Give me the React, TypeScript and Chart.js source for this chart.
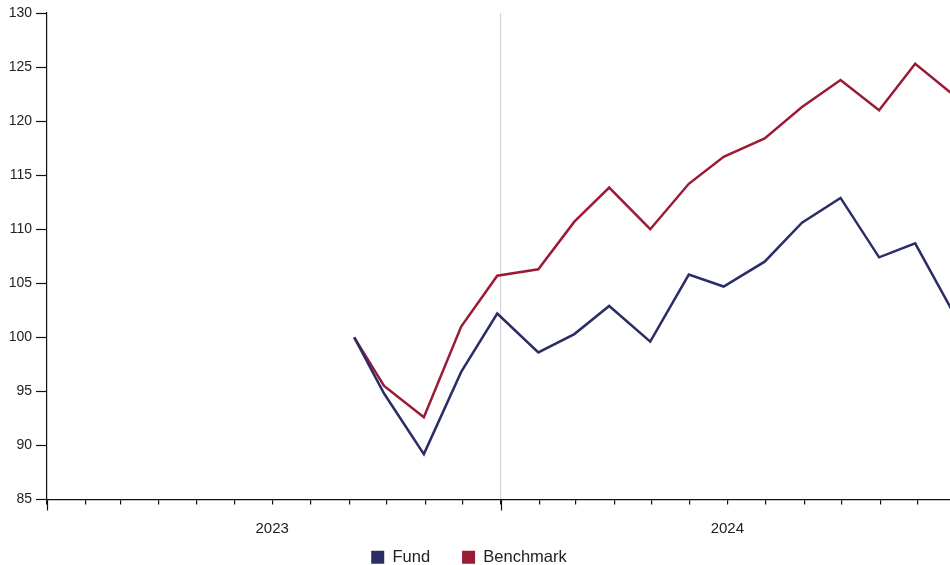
import React, { useEffect, useRef } from "react";
import { Chart, registerables } from "chart.js";

Chart.register(...registerables);

// Dates of observations (day offsets from 2023-01-01 are computed from these)
const dates = [
  "2023-09-05", "2023-09-29", "2023-10-31", "2023-11-30", "2023-12-29",
  "2024-01-31", "2024-02-29", "2024-03-28", "2024-04-30", "2024-05-31",
  "2024-06-28", "2024-07-31", "2024-08-30", "2024-09-30", "2024-10-31",
  "2024-11-29", "2024-12-31",
];
const fundValues = [
  100.0, 94.8, 89.2, 96.8, 102.2, 98.6, 100.3, 102.9, 99.6, 105.8,
  104.7, 107.0, 110.6, 112.9, 107.4, 108.7, 102.0,
];
const benchmarkValues = [
  100.0, 95.5, 92.6, 101.0, 105.7, 106.3, 110.7, 113.85, 110.0, 114.2,
  116.7, 118.4, 121.3, 123.8, 121.0, 125.3, 122.3,
];
const monthTicks = [
  "2023-01-01", "2023-02-01", "2023-03-01", "2023-04-01", "2023-05-01", "2023-06-01",
  "2023-07-01", "2023-08-01", "2023-09-01", "2023-10-01", "2023-11-01", "2023-12-01",
  "2024-01-01", "2024-02-01", "2024-03-01", "2024-04-01", "2024-05-01", "2024-06-01",
  "2024-07-01", "2024-08-01", "2024-09-01", "2024-10-01", "2024-11-01", "2024-12-01",
];
const yearLabelDates = ["2023-07-01", "2024-07-01"];
const yearLabels = ["2023", "2024"];
const yearStartDates = ["2023-01-01", "2024-01-01"];
const dividerDate = "2024-01-01";
const axisEndDate = "2024-12-27";

const ORIGIN = Date.UTC(2023, 0, 1);
const dayOf = (s: string) => {
  const [y, m, d] = s.split("-").map(Number);
  return Math.round((Date.UTC(y, m - 1, d) - ORIGIN) / 86400000);
};

const FUND = "#2b2d66";
const BENCH = "#9b1b36";
const FONT = "'Liberation Sans', Arial, sans-serif";

export default function App() {
  const ref = useRef<HTMLCanvasElement | null>(null);

  useEffect(() => {
    if (!ref.current) return;
    const tickDays = monthTicks.map(dayOf);
    const labelMap = new Map<number, string>();
    yearLabelDates.forEach((d, i) => labelMap.set(dayOf(d), yearLabels[i]));
    const majorDays = yearStartDates.map(dayOf);
    const divider = dayOf(dividerDate);

    const majorTicks = {
      id: "majorTicks",
      afterDraw(chart: any) {
        const sx = chart.scales.x;
        const ctx = chart.ctx;
        ctx.save();
        ctx.strokeStyle = "#111";
        ctx.lineWidth = 1.2;
        majorDays.forEach((v) => {
          const px = Math.round(sx.getPixelForValue(v)) + 0.5;
          ctx.beginPath();
          ctx.moveTo(px, sx.top);
          ctx.lineTo(px, sx.top + 11);
          ctx.stroke();
        });
        ctx.restore();
      },
    };

    const legendPlace = {
      id: "legendPlace",
      afterLayout(chart: any) {
        const lg = chart.legend;
        if (!lg) return;
        const h = lg.height;
        lg.top = 517;
        lg.bottom = lg.top + h;
        lg.left -= 6;
        lg.right -= 6;
      },
    };

    const chart = new Chart(ref.current, {
      type: "line",
      data: {
        datasets: [
          {
            label: "Fund",
            data: dates.map((d, i) => ({ x: dayOf(d), y: fundValues[i] })),
            borderColor: FUND,
            backgroundColor: FUND,
            borderWidth: 2.5,
            pointRadius: 0,
            tension: 0,
          },
          {
            label: "Benchmark",
            data: dates.map((d, i) => ({ x: dayOf(d), y: benchmarkValues[i] })),
            borderColor: BENCH,
            backgroundColor: BENCH,
            borderWidth: 2.5,
            pointRadius: 0,
            tension: 0,
          },
        ],
      },
      options: {
        animation: false,
        responsive: true,
        maintainAspectRatio: false,
        layout: { padding: { top: 13, right: 0, bottom: -33, left: 0 } },
        plugins: {
          tooltip: { enabled: false },
          legend: {
            position: "bottom",
            labels: {
              boxWidth: 13,
              boxHeight: 13,
              padding: 32,
              color: "#222",
              font: { size: 16.5, family: FONT },
              generateLabels: (c: any) =>
                (Chart.defaults.plugins.legend.labels as any)
                  .generateLabels(c)
                  .map((l: any) => ({ ...l, lineWidth: 0 })),
            },
          },
        },
        scales: {
          x: {
            type: "linear",
            min: 0,
            max: dayOf(axisEndDate),
            afterBuildTicks: (scale: any) => {
              scale.ticks = tickDays.map((v) => ({ value: v }));
            },
            afterFit: (scale: any) => {
              scale.height = 40;
            },
            ticks: {
              autoSkip: false,
              maxRotation: 0,
              padding: 15,
              color: "#222",
              font: { size: 15, family: FONT },
              callback: (value: any) => labelMap.get(Number(value)) ?? "",
            },
            grid: {
              drawOnChartArea: true,
              drawTicks: true,
              tickLength: 5,
              tickColor: "#111",
              tickWidth: 1.2,
              lineWidth: 1.2,
              color: (ctx: any) =>
                ctx.tick && ctx.tick.value === divider ? "#d3d6d9" : "rgba(0,0,0,0)",
            },
            border: { display: true, color: "#111", width: 1.2 },
          },
          y: {
            min: 85,
            max: 130,
            afterFit: (scale: any) => {
              scale.width = 47;
            },
            ticks: {
              stepSize: 5,
              padding: 4,
              color: "#222",
              font: { size: 14, family: FONT },
            },
            grid: {
              drawOnChartArea: false,
              drawTicks: true,
              tickLength: 11,
              tickColor: "#111",
              tickWidth: 1.2,
            },
            border: { display: true, color: "#111", width: 1.2 },
          },
        },
      },
      plugins: [majorTicks, legendPlace],
    } as any);

    return () => chart.destroy();
  }, []);

  return (
    <div style={{ position: "fixed", left: 0, top: 0, width: 950, height: 565, background: "#fff" }}>
      <canvas ref={ref} />
    </div>
  );
}
